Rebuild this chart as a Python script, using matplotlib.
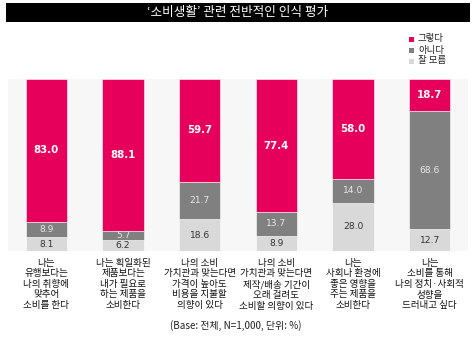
import matplotlib
matplotlib.use("Agg")
import matplotlib.pyplot as plt
from matplotlib.patches import Rectangle

plt.rcParams['font.family'] = ['Noto Sans CJK KR', 'DejaVu Sans']

title = "‘소비생활’ 관련 전반적인 인식 평가"
categories = [
    "나는\n유행보다는\n나의 취향에\n맞추어\n소비를 한다",
    "나는 획일화된\n제품보다는\n내가 필요로\n하는 제품을\n소비한다",
    "나의 소비\n가치관과 맞는다면\n가격이 높아도\n비용을 지불할\n의향이 있다",
    "나의 소비\n가치관과 맞는다면\n제작/배송 기간이\n오래 걸려도\n소비할 의향이 있다",
    "나는\n사회나 환경에\n좋은 영향을\n주는 제품을\n소비한다",
    "나는\n소비를 통해\n나의 정치·사회적\n성향을\n드러내고 싶다",
]
series_names = ["그렇다", "아니다", "잘 모름"]
yes_vals = [83.0, 88.1, 59.7, 77.4, 58.0, 18.7]
no_vals = [8.9, 5.7, 21.7, 13.7, 14.0, 68.6]
dk_vals = [8.1, 6.2, 18.6, 8.9, 28.0, 12.7]
note = "(Base: 전체, N=1,000, 단위: %)"

c_yes = "#E6005C"
c_no = "#808080"
c_dk = "#D9D9D9"

W, H = 476, 342
fig = plt.figure(figsize=(W / 100, H / 100), dpi=100)
fig.patch.set_facecolor("white")

# title bar
fig.patches.append(Rectangle((6 / W, 1 - 22 / H), 464 / W, 19 / H,
                             transform=fig.transFigure, facecolor="black",
                             edgecolor="none", zorder=0))
fig.text(238 / W, 1 - 12.5 / H, title, color="white", fontsize=9.1,
         ha="center", va="center")

ax = fig.add_axes([8 / W, 1 - 251 / H, 460 / W, 172 / H])
ax.set_facecolor("#F7F7F7")
for s in ax.spines.values():
    s.set_visible(False)
ax.set_xticks([])
ax.set_yticks([])
ax.set_xlim(-0.5, 5.5)
ax.set_ylim(0, 100)

x = list(range(len(categories)))
bw = 0.535
ax.bar(x, dk_vals, width=bw, color=c_dk, edgecolor="white", linewidth=0.4)
ax.bar(x, no_vals, width=bw, bottom=dk_vals, color=c_no, edgecolor="white", linewidth=0.4)
bottoms = [a + b for a, b in zip(dk_vals, no_vals)]
ax.bar(x, yes_vals, width=bw, bottom=bottoms, color=c_yes, edgecolor="white", linewidth=0.4)

for i in x:
    ax.text(i, dk_vals[i] / 2, f"{dk_vals[i]:.1f}", ha="center", va="center",
            fontsize=6.6, color="#333333", family="DejaVu Sans")
    ax.text(i, dk_vals[i] + no_vals[i] / 2, f"{no_vals[i]:.1f}", ha="center", va="center",
            fontsize=6.6, color="#E8E8E8", family="DejaVu Sans")
    ax.text(i, bottoms[i] + yes_vals[i] / 2, f"{yes_vals[i]:.1f}", ha="center", va="center",
            fontsize=7.4, color="white", fontweight="semibold", family="DejaVu Sans")

# category labels
for i, lab in enumerate(categories):
    ax.text(i, -4.5, lab, ha="center", va="top", fontsize=6.9,
            linespacing=1.22, color="#111111", transform=ax.transData, clip_on=False)

# legend
ly = [39, 50, 61]
for name, col, yy in zip(series_names, [c_yes, c_no, c_dk], ly):
    fig.patches.append(Rectangle((409 / W, 1 - (yy + 2.5) / H), 5 / W, 5 / H,
                                 transform=fig.transFigure, facecolor=col,
                                 edgecolor="none"))
    fig.text(418 / W, 1 - yy / H, name, fontsize=6.8, color="#222222",
             ha="left", va="center")

fig.text(236 / W, 1 - 326 / H, note, fontsize=7.1, color="#222222",
         ha="center", va="center")

fig.savefig("out.png", dpi=100)
